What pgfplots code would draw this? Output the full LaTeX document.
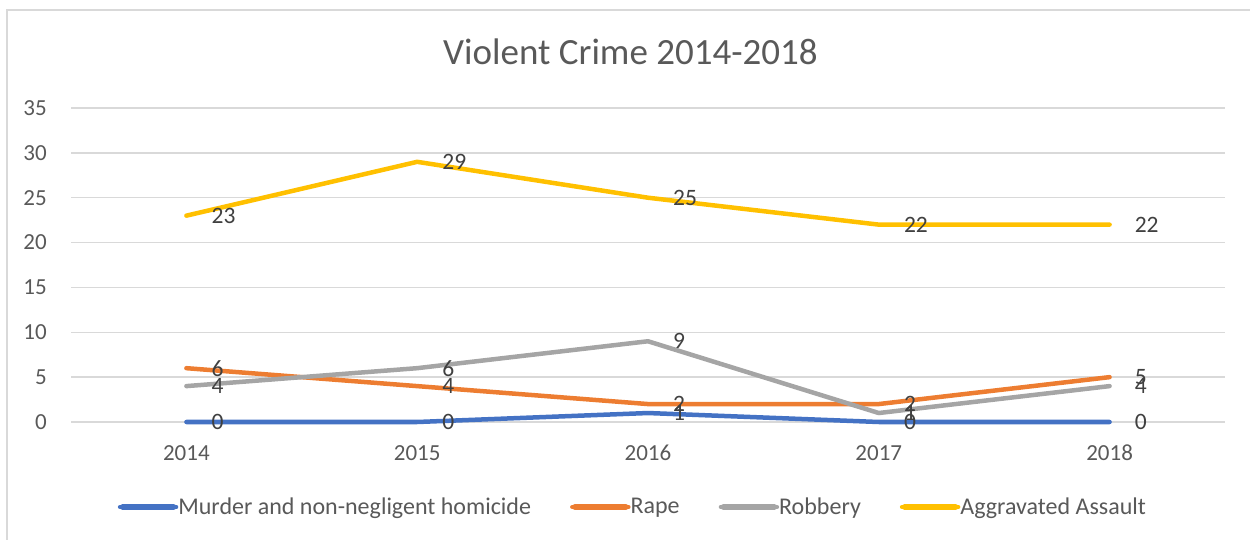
\documentclass[border=0pt]{standalone}
\usepackage{pgfplots}
\pgfplotsset{compat=1.18}
\usepackage{fontspec}
\setmainfont{Carlito}
\definecolor{cblue}{HTML}{4472C4}
\definecolor{corange}{HTML}{ED7D31}
\definecolor{cgray}{HTML}{A5A5A5}
\definecolor{cgold}{HTML}{FFC000}
\definecolor{txt}{HTML}{595959}
\definecolor{gridc}{HTML}{D9D9D9}
\definecolor{lab}{HTML}{404040}
\begin{document}
\begin{tikzpicture}
\path[use as bounding box] (0bp,0bp) rectangle (1250bp,540bp);
\draw[gridc, line width=2bp] (7bp,0bp) -- (7bp,530bp) -- (1250bp,530bp);
\node[font=\fontsize{37bp}{40bp}\selectfont, text=txt] at (630.5bp,488bp) {Violent Crime 2014-2018};
\begin{axis}[
  at={(71bp,118bp)}, anchor=south west,
  scale only axis, width=1154bp, height=314bp,
  xmin=-0.5, xmax=4.5, ymin=0, ymax=35,
  xtick={0,1,2,3,4}, xticklabels={2014,2015,2016,2017,2018},
  ytick={0,5,10,15,20,25,30,35},
  axis line style={draw=none}, major tick style={draw=none},
  ymajorgrids, grid style={gridc, line width=1.5bp},
  /pgf/number format/assume math mode=true,
  ticklabel style={font=\fontsize{23bp}{27bp}\selectfont, text=txt, inner sep=0pt},
  yticklabel style={xshift=-24bp},
  xticklabel style={yshift=-23bp},
  clip=false,
  nodes near coords,
  every node near coord/.append style={anchor=west, xshift=23bp, inner sep=0pt, font=\fontsize{23.5bp}{27bp}\selectfont, text=lab},
  every axis plot/.append style={line width=4.5bp, line cap=round, line join=round},
  legend columns=4,
  legend style={at={(0.0404,-0.2707)}, anchor=west, draw=none, fill=none, inner sep=0pt,
    font=\fontsize{24bp}{28bp}\selectfont, text=txt,
    nodes={inner sep=0pt},
    /tikz/every odd column/.style={column sep=0bp},
    /tikz/every even column/.style={column sep=39bp}},
  legend image code/.code={\draw[#1, line width=5.5bp, line cap=round] (2.5bp,0bp) -- (53.5bp,0bp); \path (0bp,0bp) -- (56bp,0bp);},
]
\addplot[cblue, no marks] coordinates {(0,0) (1,0) (2,1) (3,0) (4,0)};
\addlegendentry{Murder and non-negligent homicide}
\addplot[corange, no marks] coordinates {(0,6) (1,4) (2,2) (3,2) (4,5)};
\addlegendentry{Rape}
\addplot[cgray, no marks] coordinates {(0,4) (1,6) (2,9) (3,1) (4,4)};
\addlegendentry{Robbery}
\addplot[cgold, no marks] coordinates {(0,23) (1,29) (2,25) (3,22) (4,22)};
\addlegendentry{Aggravated Assault}
\end{axis}
\end{tikzpicture}
\end{document}
